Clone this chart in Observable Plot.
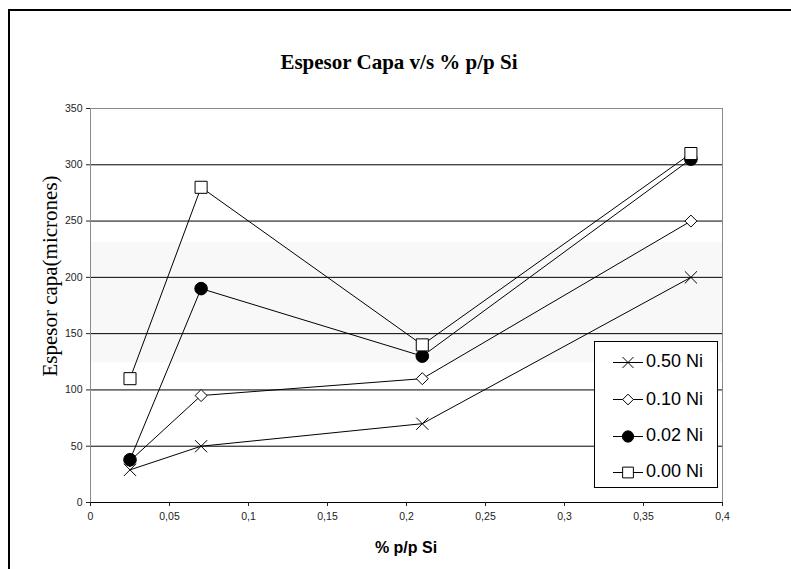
<!DOCTYPE html>
<html><head><meta charset="utf-8">
<script src="https://cdn.jsdelivr.net/npm/d3@7"></script>
<script src="https://cdn.jsdelivr.net/npm/@observablehq/plot@0.6"></script>
<style>
html,body{margin:0;padding:0;background:#fff;overflow:hidden;width:791px;height:569px;}
#wrap{position:relative;width:791px;height:569px;overflow:hidden;}
#chart{position:absolute;left:0;top:0;}
#border{position:absolute;left:8px;top:9px;width:900px;height:700px;border-left:2px solid #000;border-top:2px solid #000;pointer-events:none;}
#title{position:absolute;left:0;width:798px;top:50px;text-align:center;font:bold 21px "Liberation Serif","Times New Roman",serif;line-height:24px;color:#000;}
#ytitle{position:absolute;left:50px;top:276px;transform:translate(-50%,-50%) rotate(-90deg);white-space:nowrap;font:21px "Liberation Serif","Times New Roman",serif;line-height:1;color:#000;}
#xtitle{position:absolute;left:406px;top:548px;transform:translate(-50%,-50%);white-space:nowrap;font:bold 16px "Liberation Sans",Arial,sans-serif;line-height:1;color:#000;}
#legend{position:absolute;left:594px;top:341px;width:122px;height:145px;border:1px solid #000;background:#fff;}
.lrow{position:absolute;left:0;height:24px;display:flex;align-items:center;font:18px "Liberation Sans",Arial,sans-serif;color:#000;white-space:nowrap;}
.lrow svg{display:block;margin-left:18px;margin-right:3px;}
</style>
</head><body>
<div id="wrap">
  <div id="chart"></div>
  <div id="title">Espesor Capa v/s % p/p Si</div>
  <div id="ytitle">Espesor capa(micrones)</div>
  <div id="xtitle">% p/p Si</div>
  <div id="legend"></div>
  <div id="border"></div>
</div>
<script>
// ---- data ----
const siPct = [0.025, 0.07, 0.21, 0.38];
const seriesNames = ["0.50 Ni", "0.10 Ni", "0.02 Ni", "0.00 Ni"];
const ni050 = [29, 50, 70, 200];
const ni010 = [37, 95, 110, 250];
const ni002 = [38, 190, 130, 305];
const ni000 = [110, 280, 140, 310];
const xTicks = [0, 0.05, 0.1, 0.15, 0.2, 0.25, 0.3, 0.35, 0.4];
const yTicks = [0, 50, 100, 150, 200, 250, 300, 350];
const bandRange = [124, 231];

// ---- styles ----
const symbols = ["times", "diamond2", "circle", "square"];
const d3Symbols = [d3.symbolTimes, d3.symbolDiamond2, d3.symbolCircle, d3.symbolSquare];
const fills = ["none", "white", "black", "white"];
const radii = [5.6, 5.4, 6.3, 6.8];

const valueArrays = [ni050, ni010, ni002, ni000];
const data = seriesNames.flatMap((s, i) => siPct.map((x, j) => ({series: s, x, y: valueArrays[i][j]})));

const dots = seriesNames.map((s, i) =>
  Plot.dot(data.filter(d => d.series === s), {
    x: "x", y: "y", symbol: symbols[i], r: radii[i],
    fill: fills[i], stroke: "#000", strokeWidth: 1
  })
);

const plot = Plot.plot({
  width: 791, height: 569,
  marginLeft: 90, marginRight: 69, marginTop: 108, marginBottom: 67,
  x: {domain: [0, 0.4]},
  y: {domain: [0, 350]},
  style: {fontFamily: '"Liberation Sans", Arial, sans-serif', fontSize: "10.5px", color: "#222", background: "transparent", overflow: "visible"},
  marks: [
    Plot.rect([bandRange], {x1: 0, x2: 0.4, y1: d => d[0], y2: d => d[1], fill: "#f8f8f8"}),
    Plot.ruleY(yTicks.filter(v => v > 0 && v < 350), {stroke: "#000", strokeWidth: 1}),
    Plot.ruleY([350], {stroke: "#8a8a8a"}),
    Plot.ruleX([0, 0.4], {stroke: "#8a8a8a"}),
    Plot.ruleY([0], {stroke: "#000"}),
    Plot.axisX({ticks: xTicks, tickSize: 4, tickPadding: 6, tickFormat: d => String(d).replace(".", ","), label: null}),
    Plot.axisY({ticks: yTicks, tickSize: 4, tickPadding: 4, label: null}),
    Plot.line(data, {x: "x", y: "y", z: "series", stroke: "#000", strokeWidth: 1}),
    ...dots
  ]
});
document.getElementById("chart").appendChild(plot);

// ---- legend ----
const legend = d3.select("#legend");
const rowCenters = [19.7, 57, 93.5, 129.5];
seriesNames.forEach((s, i) => {
  const row = legend.append("div").attr("class", "lrow").style("top", (rowCenters[i] - 12) + "px");
  const svg = row.append("svg").attr("width", 30).attr("height", 16);
  svg.append("line").attr("x1", 0).attr("x2", 30).attr("y1", 8.5).attr("y2", 8.5).attr("stroke", "#000");
  svg.append("path")
    .attr("transform", "translate(15,8.5)")
    .attr("d", d3.symbol(d3Symbols[i], radii[i] * radii[i] * Math.PI * 0.8)())
    .attr("fill", fills[i]).attr("stroke", "#000");
  row.append("span").text(s);
});
</script>
</body></html>
